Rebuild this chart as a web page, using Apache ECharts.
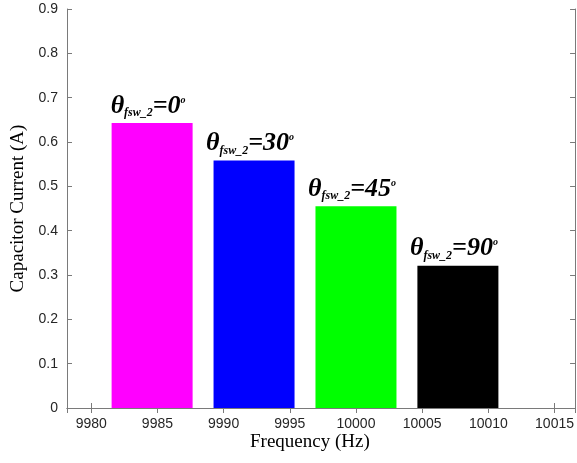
<!DOCTYPE html>
<html>
<head>
<meta charset="utf-8">
<script src="https://cdn.jsdelivr.net/npm/echarts@6/dist/echarts.min.js"></script>
<style>
  html, body { margin: 0; padding: 0; background: #fff; }
  #main { width: 577px; height: 463px; }
</style>
</head>
<body>
<div id="main"></div>
<script>
// bar positions (Hz) and heights (A)
var freqs = [9984.6, 9992.3, 10000, 10007.7];
var currents = [0.643, 0.558, 0.455, 0.321];
var angles = ['0', '30', '45', '90'];
var colors = ['#ff00ff', '#0000ff', '#00ff00', '#000000'];

var xMin = 9978.17, xMax = 10016.55;

var myChart = echarts.init(document.getElementById('main'));

var axisColor = '#262626';
var lineColor = '#7a7a7a';

function boxAxis(extra) {
  return Object.assign({
    axisLine: { show: true, lineStyle: { color: lineColor, width: 1 } },
    axisTick: { show: true, inside: true, length: 5, lineStyle: { color: lineColor } },
    splitLine: { show: false }
  }, extra);
}

myChart.setOption({
  animation: false,
  grid: { left: 67, top: 9, right: 1, bottom: 55 },
  xAxis: [boxAxis({
    type: 'value',
    min: xMin,
    max: xMax,
    splitNumber: 8,
    axisLabel: {
      showMinLabel: false, showMaxLabel: false,
      color: axisColor, fontFamily: 'Liberation Sans', fontSize: 14, margin: 9,
      formatter: function (v) { return String(v); }
    }
  }), boxAxis({
    type: 'value',
    position: 'top',
    min: xMin,
    max: xMax,
    splitNumber: 8,
    axisLabel: { show: false }
  })],
  yAxis: [boxAxis({
    type: 'value',
    min: 0,
    max: 0.9,
    interval: 0.1,
    name: 'Capacitor Current (A)',
    nameLocation: 'middle',
    nameGap: 34,
    nameTextStyle: { fontFamily: 'Liberation Serif', fontSize: 19, color: '#000' },
    axisLabel: { color: axisColor, fontFamily: 'Liberation Sans', fontSize: 14, margin: 9 }
  }), boxAxis({
    type: 'value',
    position: 'right',
    min: 0,
    max: 0.9,
    interval: 0.1,
    axisLabel: { show: false }
  })],
  graphic: [{
    type: 'text',
    left: 250,
    top: 433,
    style: { text: 'Frequency (Hz)', font: '19px "Liberation Serif"', fill: '#000' }
  }],
  series: [{
    type: 'bar',
    barWidth: 81,
    data: freqs.map(function (f, i) {
      return { value: [f, currents[i]], itemStyle: { color: colors[i] } };
    }),
    label: {
      show: true,
      position: 'top',
      distance: 4,
      offset: [-4, 0],
      formatter: function (p) {
        return '{t|θ}{s|fsw_2}{t|=' + angles[p.dataIndex] + '}{d|o}';
      },
      rich: {
        t: { fontFamily: 'Liberation Serif', fontStyle: 'italic', fontWeight: 'bold', fontSize: 26, color: '#000' },
        s: { fontFamily: 'Liberation Serif', fontStyle: 'italic', fontWeight: 'bold', fontSize: 12, color: '#000', padding: [14, 0, 0, 0] },
        d: { fontFamily: 'Liberation Serif', fontStyle: 'italic', fontWeight: 'bold', fontSize: 10, color: '#000', padding: [0, 0, 12, 0] }
      }
    }
  }]
});
</script>
</body>
</html>
